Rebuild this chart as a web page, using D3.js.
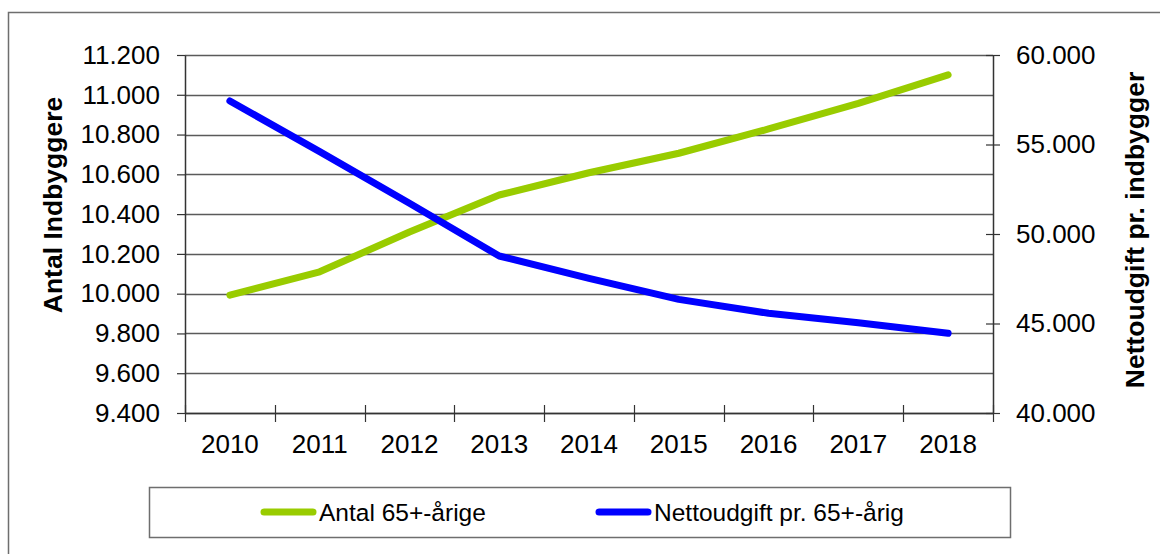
<!DOCTYPE html>
<html>
<head>
<meta charset="utf-8">
<script src="https://cdn.jsdelivr.net/npm/d3@7"></script>
<style>
  html, body { margin: 0; padding: 0; background: #fff; }
  svg { display: block; font-family: "Liberation Sans", Arial, sans-serif; }
</style>
</head>
<body>
<svg id="chart" width="1160" height="554"></svg>
<script>
const years = ["2010","2011","2012","2013","2014","2015","2016","2017","2018"];
const antal65 = [9993, 10110, 10310, 10496, 10608, 10706, 10828, 10957, 11100];
const nettoudgift = [57430, 54600, 51716, 48770, 47525, 46350, 45570, 45045, 44450];
const leftTicks = [9400, 9600, 9800, 10000, 10200, 10400, 10600, 10800, 11000, 11200];
const rightTicks = [40000, 45000, 50000, 55000, 60000];
const seriesNames = ["Antal 65+-årige", "Nettoudgift pr. 65+-årig"];
const leftTitle = "Antal Indbyggere";
const rightTitle = "Nettoudgift pr. indbygger";

const svg = d3.select("#chart");
const loc = d3.formatLocale({decimal: ",", thousands: ".", grouping: [3], currency: ["", ""]});
const fmt = loc.format(",.0f");

const L = 185, R = 993, T = 55, B = 413;
const x = d3.scaleBand().domain(years).range([L, R]).padding(0);
const yL = d3.scaleLinear().domain([9400, 11200]).range([B, T]);
const yR = d3.scaleLinear().domain([40000, 60000]).range([B, T]);

const green = "#99cc00", blue = "#0000ff";
const fontSize = 26;

// outer frame
svg.append("rect").attr("x", 8.5).attr("y", 12.5).attr("width", 1170).attr("height", 560)
  .attr("fill", "none").attr("stroke", "#6e6e6e").attr("stroke-width", 1.5);

// gridlines
svg.append("g").selectAll("line").data(leftTicks).join("line")
  .attr("x1", L).attr("x2", R)
  .attr("y1", d => Math.round(yL(d)) + 0.5).attr("y2", d => Math.round(yL(d)) + 0.5)
  .attr("stroke", "#5a5a5a").attr("stroke-width", 1.3);

// left axis
const gL = svg.append("g").attr("transform", `translate(${L},0)`)
  .call(d3.axisLeft(yL).tickValues(leftTicks).tickFormat(fmt).tickSizeInner(8).tickSizeOuter(0).tickPadding(17));
gL.select(".domain").attr("stroke", "#333").attr("stroke-width", 1.5);
gL.selectAll(".tick line").attr("stroke", "#333").attr("stroke-width", 1.2);
gL.selectAll(".tick text").attr("font-size", fontSize).attr("fill", "#000").attr("font-family", "Liberation Sans, Arial, sans-serif");

// right axis
const gR = svg.append("g").attr("transform", `translate(${R},0)`)
  .call(d3.axisRight(yR).tickValues(rightTicks).tickFormat(fmt).tickSizeInner(7).tickSizeOuter(0).tickPadding(16));
gR.select(".domain").attr("stroke", "#333").attr("stroke-width", 1.5);
gR.selectAll(".tick line").attr("x1", -7).attr("stroke", "#333").attr("stroke-width", 1.2);
gR.selectAll(".tick text").attr("font-size", fontSize).attr("fill", "#000").attr("font-family", "Liberation Sans, Arial, sans-serif");

// bottom axis (labels at band centres)
const gB = svg.append("g").attr("transform", `translate(0,${B})`)
  .call(d3.axisBottom(x).tickSize(0).tickPadding(22));
gB.select(".domain").remove();
gB.selectAll(".tick text").attr("font-size", fontSize).attr("fill", "#000").attr("font-family", "Liberation Sans, Arial, sans-serif");
// bottom axis line and crossing ticks at band boundaries
svg.append("line").attr("x1", L).attr("x2", R).attr("y1", B + 0.5).attr("y2", B + 0.5)
  .attr("stroke", "#333").attr("stroke-width", 1.5);
const bounds = years.map(d => x(d)).concat([x.range()[1]]);
svg.append("g").selectAll("line").data(bounds).join("line")
  .attr("x1", d => Math.round(d) + 0.5).attr("x2", d => Math.round(d) + 0.5)
  .attr("y1", B - 8).attr("y2", B + 9)
  .attr("stroke", "#333").attr("stroke-width", 1.2);

// lines
const cx = d => x(d) + x.bandwidth() / 2;
const lineL = d3.line().x((d, i) => cx(years[i])).y(d => yL(d));
const lineR = d3.line().x((d, i) => cx(years[i])).y(d => yR(d));
svg.append("path").datum(antal65).attr("d", lineL)
  .attr("fill", "none").attr("stroke", green).attr("stroke-width", 7)
  .attr("stroke-linecap", "round").attr("stroke-linejoin", "round");
svg.append("path").datum(nettoudgift).attr("d", lineR)
  .attr("fill", "none").attr("stroke", blue).attr("stroke-width", 7)
  .attr("stroke-linecap", "round").attr("stroke-linejoin", "round");

// axis titles
svg.append("text").attr("transform", `translate(62,205) rotate(-90)`)
  .attr("text-anchor", "middle").attr("font-weight", "bold").attr("font-size", 26.5)
  .text(leftTitle);
svg.append("text").attr("transform", `translate(1144,230) rotate(-90)`)
  .attr("text-anchor", "middle").attr("font-weight", "bold").attr("font-size", 26.5)
  .text(rightTitle);

// legend
svg.append("rect").attr("x", 149.5).attr("y", 487.5).attr("width", 861).attr("height", 50)
  .attr("fill", "#fff").attr("stroke", "#6e6e6e").attr("stroke-width", 1.5);
const legendItems = [
  {name: seriesNames[0], color: green, x1: 264, x2: 313, tx: 319},
  {name: seriesNames[1], color: blue, x1: 599, x2: 648, tx: 654}
];
const lg = svg.append("g").selectAll("g").data(legendItems).join("g");
lg.append("line").attr("x1", d => d.x1).attr("x2", d => d.x2).attr("y1", 512).attr("y2", 512)
  .attr("stroke", d => d.color).attr("stroke-width", 7).attr("stroke-linecap", "round");
lg.append("text").attr("x", d => d.tx).attr("y", 512).attr("dy", "0.35em")
  .attr("font-size", 24.5).attr("fill", "#000").text(d => d.name);
</script>
</body>
</html>
